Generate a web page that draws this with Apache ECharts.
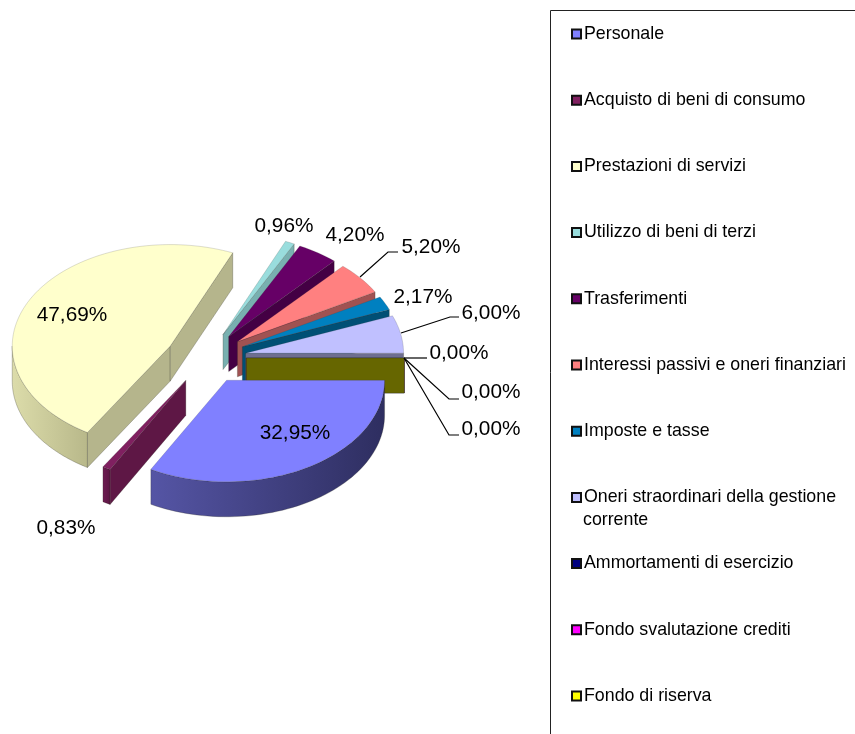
<!DOCTYPE html>
<html><head><meta charset="utf-8">
<style>html,body{margin:0;padding:0;background:#fff}#c{width:855px;height:734px}</style>
<script src="https://cdn.jsdelivr.net/npm/echarts@6/dist/echarts.min.js"></script>
</head><body><div id="c"></div>
<script>
const categories = ['Personale','Acquisto di beni di consumo','Prestazioni di servizi','Utilizzo di beni di terzi','Trasferimenti','Interessi passivi e oneri finanziari','Imposte e tasse','Oneri straordinari della gestione corrente','Ammortamenti di esercizio','Fondo svalutazione crediti','Fondo di riserva'];
const shares = [32.95,0.83,47.69,0.96,4.20,5.20,2.17,6.00,0.00,0.00,0.00];

// styling
const topColors  = ['#8080FF','#802060','#FFFFCC','#99DDDD','#660066','#FF8080','#0080C0','#C0C0FF','#000080','#FF00FF','#FFFF00'];
const faceColors = ['#50509f','#5e1745','#b5b58c','#78b0b0','#440044','#a05252','#004f75','#6e6e90','#000033','#660066','#666600'];
const sideFrom   = ['#5555a5','#6e1c52','#dcdcaa','#8accc0','#550055','#b06060','#006090','#8080a0','#000050','#880088','#777700'];
const sideTo     = ['#2e2e60','#5a1542','#b8b88a','#70a8a8','#400040','#905050','#004f75','#6e6e90','#000033','#660066','#666600'];
const paintOrder = [11,10,1,2,3,4,5,6,7,8,9]; // stacking rank of each slice

// layout of the 3D pie
const CX = 206, CY = 358, RX = 158, RY = 101.5, DEPTH = 35, EXPLODE = 0.255;

// label layout: [centre x, centre y]
const labelPos = [[295,433],[66,528],[72,315],[284,226],[355,235],[431,247],[423,297],[491,313],[459,353],[491,392],[491,429]];
// leader lines, by slice
const leaders = {5:[[360,277],[388,252],[398,252]],7:[[401,333],[450,317],[459,317]],8:[[404,358],[427,358]],9:[[404,358],[449,399],[459,399]],10:[[404,358],[449,435],[459,435]]};

const rad = d => d*Math.PI/180;
function ranges(){ let c=0; return shares.map(v=>{const s=c; c+=v; return [s*3.6,c*3.6];}); }
const sliceAngles = ranges();

function makeRender(idx){
  return function(params, api){
    const [t0,t1] = sliceAngles[idx];
    const share = api.value(0);
    const mid = rad((t0+t1)/2);
    const ox = CX + EXPLODE*RX*Math.cos(mid), oy = CY + EXPLODE*RY*Math.sin(mid);
    const pt = (t,dz=0)=>[ox+RX*Math.cos(rad(t)), oy+RY*Math.sin(rad(t))+dz];
    const kids = [];
    const edge = 'rgba(40,40,30,0.45)';
    // outer wall (front half only)
    const a=Math.max(t0,0), b=Math.min(t1,180);
    if(b>a){
      const up=[],dn=[];
      for(let i=0;i<=60;i++){const t=a+(b-a)*i/60; up.push(pt(t)); dn.unshift(pt(t,DEPTH));}
      kids.push({type:'polygon',shape:{points:up.concat(dn)},style:{fill:{type:'linear',x:0,y:0,x2:1,y2:0,colorStops:[{offset:0,color:sideFrom[idx]},{offset:1,color:sideTo[idx]}]},stroke:edge,lineWidth:0.6}});
    }
    const face=t=>({type:'polygon',shape:{points:[[ox,oy],pt(t),pt(t,DEPTH),[ox,oy+DEPTH]]},style:{fill:faceColors[idx],stroke:edge,lineWidth:0.6}});
    if(Math.sin(rad(t0-90))>0.001) kids.push(face(t0));
    if(Math.sin(rad(t1+90))>0.001) kids.push(face(t1));
    // top surface
    if(t1>t0){
      const pts=[[ox,oy]];
      const n=Math.max(4,Math.ceil((t1-t0)/2));
      for(let i=0;i<=n;i++) pts.push(pt(t0+(t1-t0)*i/n));
      kids.push({type:'polygon',shape:{points:pts},style:{fill:topColors[idx],stroke:'rgba(60,60,50,0.35)',lineWidth:0.5}});
    }
    if(leaders[idx]) kids.push({type:'polyline',z2:50,shape:{points:leaders[idx]},style:{fill:null,stroke:'#000',lineWidth:1.2}});
    kids.push({type:'text',z2:60,style:{x:labelPos[idx][0],y:labelPos[idx][1],text:share.toFixed(2).replace('.',',')+'%',fill:'#000',font:'20.8px "Liberation Sans"',align:'center',verticalAlign:'middle'}});
    return {type:'group',children:kids};
  };
}

const series = categories.map((name,i)=>({
  type:'custom', name, coordinateSystem:'none', z:paintOrder[i],
  itemStyle:{color:topColors[i]},
  data:[{name,value:[shares[i]]}],
  renderItem:makeRender(i), silent:true, animation:false
}));

const chart = echarts.init(document.getElementById('c'),null,{renderer:'canvas'});
chart.setOption({
  backgroundColor:'#fff', animation:false,
  color:topColors,
  legend:{
    orient:'vertical', left:571, top:24, padding:0,
    itemGap:46.2, itemWidth:9, itemHeight:9,
    icon:'rect', selectedMode:false,
    itemStyle:{borderColor:'#111',borderWidth:2},
    data:categories,
    formatter:n=>n.replace(' corrente',''),
    textStyle:{fontFamily:'Liberation Sans',fontSize:17.8,lineHeight:20,color:'#000',padding:[0,0,0,-2]}
  },
  graphic:[
    {type:'polyline',z:1,shape:{points:[[855,10.5],[550.5,10.5],[550.5,734]]},style:{fill:null,stroke:'#222',lineWidth:1}},
    {type:'text',left:583,top:511,style:{text:'corrente',font:'17.8px "Liberation Sans"',fill:'#000'}}
  ],
  series
});
</script></body></html>
